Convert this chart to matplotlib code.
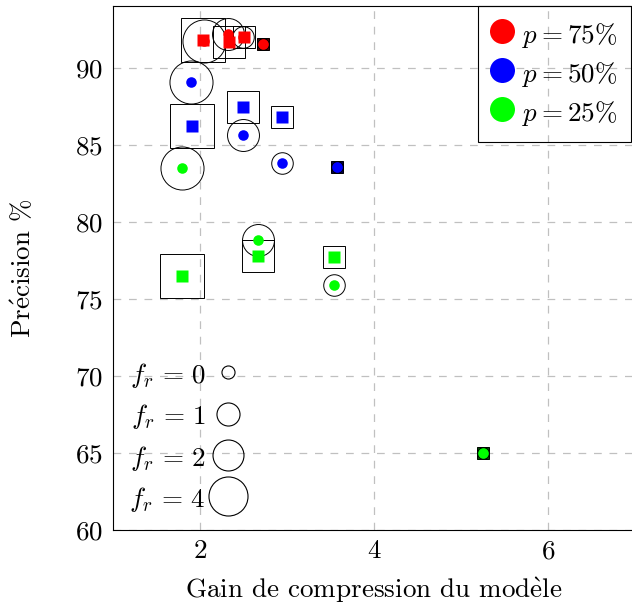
import matplotlib.pyplot as plt
from matplotlib.lines import Line2D
from matplotlib.colors import to_rgb

plt.rcParams["font.family"] = "serif"
plt.rcParams["font.serif"] = ["cmr10"]
plt.rcParams["mathtext.fontset"] = "cm"
plt.rcParams["axes.formatter.use_mathtext"] = True
plt.rcParams["axes.unicode_minus"] = False
plt.rcParams["font.size"] = 19.5

# pruning ratio p, one colour per level
p_levels = ["75", "50", "25"]
p_colors = ["#ff0000", "#0000ff", "#00ff00"]
fr_levels = [0, 1, 2, 4]

# rows: p = 75, 50, 25 ; columns: f_r = 4, 2, 1, 0
circ_fr = [4, 2, 1, 0]
circ_gain = [[2.05, 2.32, 2.49, 2.72],
             [1.90, 2.49, 2.94, 3.58],
             [1.79, 2.67, 3.54, 5.25]]
circ_prec = [[91.75, 92.20, 92.00, 91.56],
             [89.10, 85.65, 83.80, 83.55],
             [83.50, 78.80, 75.87, 64.98]]

sq_fr = [4, 2, 1, 0]
sq_gain = [[2.04, 2.33, 2.50, 2.72],
           [1.91, 2.49, 2.94, 3.58],
           [1.79, 2.67, 3.54, 5.25]]
sq_prec = [[91.80, 91.68, 92.00, 91.56],
           [86.23, 87.42, 86.77, 83.55],
           [76.49, 77.75, 77.72, 64.98]]

# outline size (pt) for each f_r
ring_size = {0: 8.3, 1: 15.5, 2: 23.0, 4: 31.0}
legend_ring_size = {0: 9.4, 1: 16.6, 2: 22.3, 4: 28.1}


def darken(color, k=0.3):
    r, g, b = to_rgb(color)
    return (r * k, g * k, b * k)


fig = plt.figure(figsize=(6.32, 6.05), dpi=100)
ax = fig.add_axes([113 / 632, 1 - 530 / 605, 522 / 632, 524 / 605])

for i, color in enumerate(p_colors):
    # square method
    for x, y, fr in zip(sq_gain[i], sq_prec[i], sq_fr):
        face = darken(color) if fr == 0 else "none"
        ax.plot(x, y, marker="s", ms=ring_size[fr], mfc=face, mec="black",
                mew=0.7, ls="none", zorder=3)
        ax.plot(x, y, marker="s", ms=8.3, mfc=color, mec="none", ls="none",
                zorder=4 if fr else 2)
    # circle method
    for x, y, fr in zip(circ_gain[i], circ_prec[i], circ_fr):
        ax.plot(x, y, marker="o", ms=ring_size[fr], mfc="none", mec="black",
                mew=0.7, ls="none", zorder=3)
        ax.plot(x, y, marker="o", ms=7.6, mfc=color, mec="none", ls="none",
                zorder=5)

ax.set_xlim(1, 7)
ax.set_ylim(60, 94)
ax.set_xticks([2, 4, 6])
ax.set_yticks([60, 65, 70, 75, 80, 85, 90])
ax.tick_params(length=0, pad=7)
ax.grid(True, color="#c0c0c0", lw=0.9, ls=(0, (6.2, 6.2)))
ax.set_axisbelow(True)
for s in ax.spines.values():
    s.set_linewidth(0.8)

ax.set_xlabel(r"Gain de compression du mod$\grave{\mathrm{e}}$le", labelpad=9)
ax.set_ylabel(r"Pr$\acute{\mathrm{e}}$cision %", labelpad=28)

# legend for p
p_handles = [Line2D([], [], marker="o", ms=18, mfc=c, mec="none", ls="none")
             for c in p_colors]
leg1 = ax.legend(p_handles, [rf"$p = {p}\%$" for p in p_levels],
                 loc="upper right", bbox_to_anchor=(631 / 632, 599 / 605),
                 bbox_transform=fig.transFigure, borderaxespad=0,
                 borderpad=0.5, handlelength=0.75, handleheight=1.3,
                 handletextpad=0.39, labelspacing=0.3,
                 fancybox=False, framealpha=1, facecolor="none",
                 edgecolor="black")
leg1.get_frame().set_linewidth(0.8)
ax.add_artist(leg1)

# legend for f_r
fr_handles = [Line2D([], [], marker="o", ms=legend_ring_size[f], mfc="none",
                     mec="black", mew=0.8, ls="none") for f in fr_levels]
ax.legend(fr_handles, [rf"$f_r\,=\,{f}$" for f in fr_levels], loc="lower left",
          markerfirst=False, frameon=False, borderaxespad=0.3, borderpad=0.3,
          handlelength=0.9, handleheight=1.0, handletextpad=0.35,
          labelspacing=0.45)

fig.savefig("out.png", dpi=100)
